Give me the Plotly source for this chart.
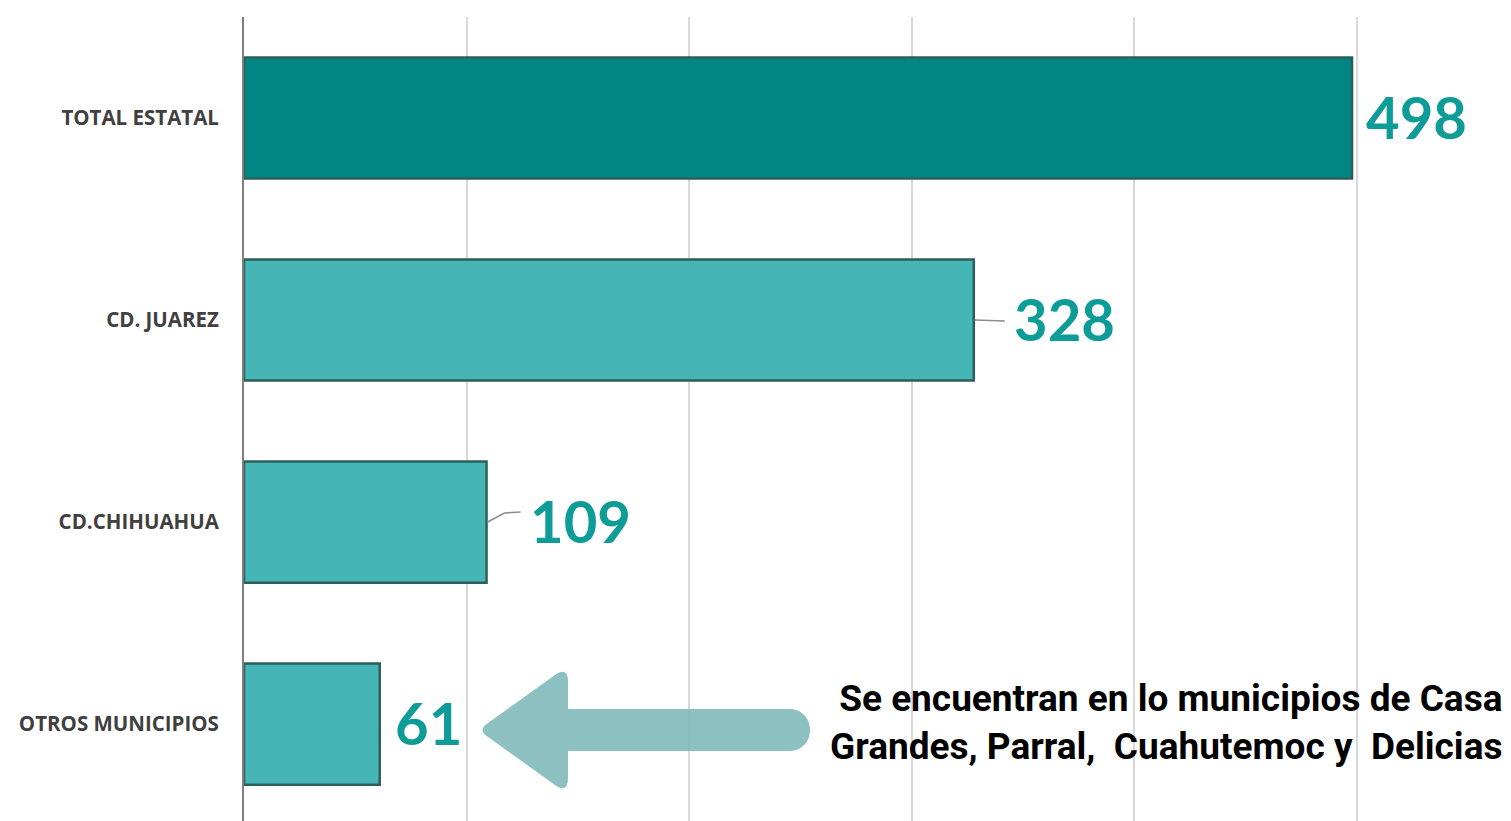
import plotly.graph_objects as go

categories = ["TOTAL ESTATAL", "CD. JUAREZ", "CD.CHIHUAHUA", "OTROS MUNICIPIOS"]
values = [498, 328, 109, 61]
bar_colors = ["#028683", "#45B6B5", "#45B6B5", "#45B6B5"]
label_shift = [12, 38, 41, 13]
note_text = "Se encuentran en lo municipios de Casa<br>Grandes, Parral,  Cuahutemoc y  Delicias"

OFF = 8  # page body margin
PW, PH = 1511, 821          # page pixels
W, H = PW - OFF, PH - OFF   # figure size
L, R, T, B = 244 - OFF, 0, 17 - OFF, 0

def px(x):
    return (x - OFF - L) / (W - L - R)

def py(y):
    return (OFF + H - B - y) / (H - T - B)

fig = go.Figure()
fig.add_trace(go.Bar(
    y=categories, x=values, orientation="h",
    marker=dict(color=bar_colors, line=dict(color="#2D5E5C", width=2.5)),
    width=0.6, hoverinfo="x+y",
))

for cat, v, s in zip(categories, values, label_shift):
    fig.add_annotation(x=v, y=cat, xref="x", yref="y", text=f"<b>{v}</b>",
                       showarrow=False, xanchor="left", yanchor="middle",
                       xshift=s, yshift=2,
                       font=dict(family="Lato, Open Sans, sans-serif", size=58, color="#0E9C98"))

# leader lines
fig.add_shape(type="path", xref="x", yref="y", xsizemode="pixel", ysizemode="pixel",
              xanchor=values[1], yanchor=1, path="M 1,0 L 31,-1",
              line=dict(color="#8C8C8C", width=1.5))
fig.add_shape(type="path", xref="x", yref="y", xsizemode="pixel", ysizemode="pixel",
              xanchor=values[2], yanchor=2, path="M 1,0 L 18,9 L 34,10",
              line=dict(color="#8C8C8C", width=1.5))

def P(x, y):
    return f"{px(x):.5f},{py(y):.5f}"

path = " ".join([
    "M", P(789, 709), "L", P(568, 709), "L", P(568, 682),
    "Q", P(568, 666), P(555, 675), "L", P(488, 723),
    "Q", P(477, 730), P(488, 737), "L", P(555, 785),
    "Q", P(568, 794), P(568, 778), "L", P(568, 751),
    "L", P(789, 751), "C", P(817, 751), P(817, 709), P(789, 709), "Z"])
fig.add_shape(type="path", xref="paper", yref="paper", path=path,
              fillcolor="#7FB9BA", opacity=0.9, line=dict(width=0))

fig.add_annotation(x=px(1504), y=py(722), xref="paper", yref="paper",
                   text=f"<b>{note_text}</b>", showarrow=False,
                   xanchor="right", yanchor="middle", align="right",
                   font=dict(family="Roboto, sans-serif", size=37, color="#000000"))

fig.update_layout(
    width=W, height=H, margin=dict(l=L, r=R, t=T, b=B),
    plot_bgcolor="white", paper_bgcolor="white", showlegend=False,
    xaxis=dict(range=[0, (W - L - R) / 2.225], dtick=100, showgrid=True,
               gridcolor="#D9D9D9", gridwidth=1.5, showticklabels=False,
               zeroline=False, showline=False, fixedrange=True),
    yaxis=dict(range=[3.48, -0.5], showline=True, linecolor="#7F7F7F", linewidth=2,
               ticks="", ticklabelstandoff=19,
               tickfont=dict(family="Open Sans, sans-serif", size=20.5, color="#404040", weight="bold"),
               fixedrange=True),
)

fig.write_html("out.html")
